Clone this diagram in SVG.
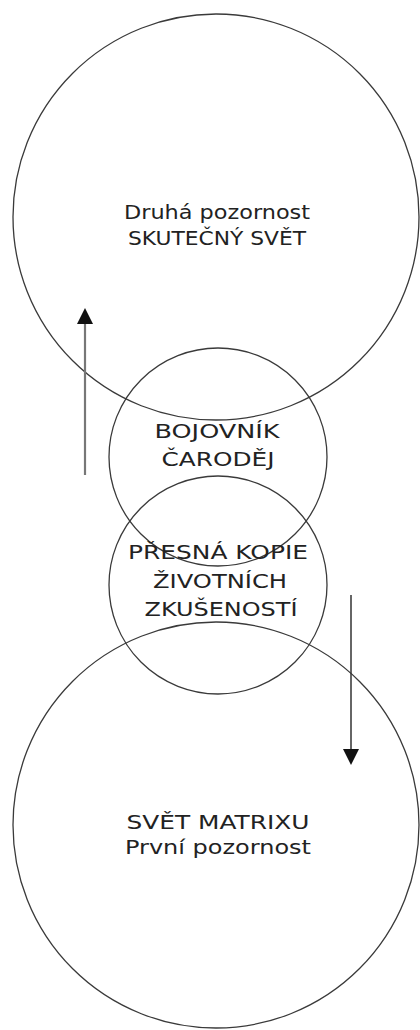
<svg xmlns="http://www.w3.org/2000/svg" width="420" height="1030" viewBox="0 0 420 1030">
<style>
.c{fill:none;stroke:#3a3a3a;stroke-width:1.3}
.t{font-family:"DejaVu Sans",Verdana,sans-serif;font-size:20px;fill:#222;text-anchor:middle}
</style>
<defs>
<marker id="ah" markerWidth="16" markerHeight="16" refX="8" refY="8" orient="auto" markerUnits="userSpaceOnUse">
<path d="M0,0 L16,8 L0,16 Z" fill="#111"/>
</marker>
</defs>
<rect width="420" height="1030" fill="#fff"/>
<g id="top">
<circle class="c" cx="216" cy="217" r="203"/>
<text class="t" x="217" y="219" textLength="186" lengthAdjust="spacingAndGlyphs">Druhá pozornost</text>
<text class="t" x="217" y="245" textLength="178" lengthAdjust="spacingAndGlyphs">SKUTEČNÝ SVĚT</text>
</g>
<g id="bottom">
<circle class="c" cx="216" cy="825" r="203"/>
<text class="t" x="218" y="829" textLength="183" lengthAdjust="spacingAndGlyphs">SVĚT MATRIXU</text>
<text class="t" x="218" y="854" textLength="186" lengthAdjust="spacingAndGlyphs">První pozornost</text>
</g>
<g id="warrior">
<circle class="c" cx="218" cy="457" r="109"/>
<text class="t" x="217" y="438" textLength="125" lengthAdjust="spacingAndGlyphs">BOJOVNÍK</text>
<text class="t" x="218" y="466" textLength="113" lengthAdjust="spacingAndGlyphs">ČARODĚJ</text>
</g>
<g id="copy">
<circle class="c" cx="218" cy="585" r="109"/>
<text class="t" x="218" y="559" textLength="180" lengthAdjust="spacingAndGlyphs">PŘESNÁ KOPIE</text>
<text class="t" x="220" y="588" textLength="134" lengthAdjust="spacingAndGlyphs">ŽIVOTNÍCH</text>
<text class="t" x="221" y="616" textLength="153" lengthAdjust="spacingAndGlyphs">ZKUŠENOSTÍ</text>
</g>
<g id="connectors">
<line x1="85" y1="475" x2="85" y2="316" stroke="#777" stroke-width="2.2" marker-end="url(#ah)"/>
<line x1="351" y1="595" x2="351" y2="757" stroke="#333" stroke-width="1.5" marker-end="url(#ah)"/>
</g>
</svg>
